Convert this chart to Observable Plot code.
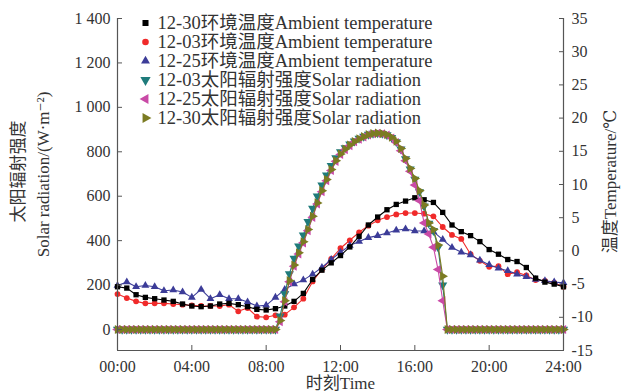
<!DOCTYPE html>
<html><head><meta charset="utf-8">
<script src="https://cdn.jsdelivr.net/npm/d3@7"></script>
<script src="https://cdn.jsdelivr.net/npm/@observablehq/plot@0.6"></script>
<style>
body{margin:0;background:#fff}
#chart svg, #chart svg text { font-family: "Liberation Serif", "Times New Roman", "DejaVu Serif", "Noto Sans CJK SC", serif !important; }
</style>
</head><body><div id="chart"></div>
<script>
// ---- data ----
const tempTimes = d3.range(0, 24.001, 0.5);   // hours, 30-min sampling
const solarTimes = d3.range(0, 24.001, 0.25); // hours, 15-min sampling

// ambient temperature (°C)
const temp1230 = [-5.4,-5.6,-6.6,-7.0,-7.2,-7.4,-7.6,-8.0,-8.3,
  -8.4,-8.3,-8.0,-7.9,-8.1,-8.4,-8.8,-8.9,
  -8.7,-8.3,-7.6,-6.4,-4.3,-2.9,-1.8,-0.7,
  0.6,2.2,3.9,5.1,6.2,7.0,7.5,8.0,
  7.7,7.3,5.8,3.9,2.9,2.3,1.4,0.2,
  -0.5,-1.3,-1.6,-2.5,-4.1,-4.7,-5.0,-5.4];
const temp1203 = [-6.5,-7.1,-7.6,-7.9,-7.9,-7.9,-8.0,-8.1,-8.2,
  -8.3,-8.3,-8.3,-8.1,-9.1,-8.6,-9.9,-10.0,
  -9.7,-9.6,-8.5,-7.2,-4.6,-2.8,-1.2,0.4,
  1.6,2.8,3.8,4.6,5.1,5.5,5.7,5.7,
  5.6,5.2,3.6,2.4,1.8,-0.5,-1.5,-2.4,
  -2.3,-3.5,-3.2,-3.7,-4.4,-4.5,-4.8,-5.4];
const temp1225 = [-5.2,-4.7,-5.4,-5.2,-5.4,-6.0,-5.9,-6.2,-7.0,
  -5.8,-7.2,-6.6,-7.2,-7.2,-7.7,-8.3,-8.2,
  -7.0,-5.8,-5.0,-4.4,-3.5,-2.5,-1.3,-0.2,
  0.8,1.4,2.0,2.3,2.7,3.1,3.3,3.0,
  3.0,2.9,1.7,0.5,-0.2,-0.6,-1.4,-2.1,
  -2.6,-3.0,-3.5,-3.9,-4.3,-4.5,-4.7,-4.8];

// solar radiation (W·m^-2)
const solar1203 = [0,0,0,0,0,0,0,0,0,0,0,0,0,0,0,0,0,0,0,0,0,0,0,0,0,0,0,0,0,0,0,0,0,0,0,
  60,160,250,320,375,425,485,545,600,650,695,738,772,800,818,834,848,860,869,878,
  883,885,882,876,864,845,812,768,722,676,620,555,478,445,370,200,
  0,0,0,0,0,0,0,0,0,0,0,0,0,0,0,0,0,0,0,0,0,0,0,0,0,0];
const solar1225 = [0,0,0,0,0,0,0,0,0,0,0,0,0,0,0,0,0,0,0,0,0,0,0,0,0,0,0,0,0,0,0,0,0,0,0,
  35,125,215,285,340,390,445,505,565,620,670,716,757,788,810,828,845,857,867,876,
  881,883,881,875,862,842,805,760,712,650,580,480,430,370,270,130,
  0,0,0,0,0,0,0,0,0,0,0,0,0,0,0,0,0,0,0,0,0,0,0,0,0,0];
const solar1230 = [0,0,0,0,0,0,0,0,0,0,0,0,0,0,0,0,0,0,0,0,0,0,0,0,0,0,0,0,0,0,0,0,0,0,0,
  40,130,220,290,345,395,450,510,570,625,675,720,760,790,812,830,846,858,868,877,
  882,884,882,877,866,848,815,770,725,680,625,560,480,450,380,240,
  0,0,0,0,0,0,0,0,0,0,0,0,0,0,0,0,0,0,0,0,0,0,0,0,0,0];

const xTicks = [0, 4, 8, 12, 16, 20, 24];
const leftTicks = [0, 200, 400, 600, 800, 1000, 1200, 1400];
const rightTicks = [-15, -10, -5, 0, 5, 10, 15, 20, 25, 30, 35];
const legendLabels = ["12-30环境温度Ambient temperature","12-03环境温度Ambient temperature","12-25环境温度Ambient temperature",
  "12-03太阳辐射强度Solar radiation","12-25太阳辐射强度Solar radiation","12-30太阳辐射强度Solar radiation"];

// ---- scales ----
const yMin = -94.5, yMax = 1400, tMin = -15, tMax = 35;
const toS = T => yMin + (T - tMin) * (yMax - yMin) / (tMax - tMin);
const fromS = S => tMin + (S - yMin) * (tMax - tMin) / (yMax - yMin);
const FONT = "Liberation Serif, Times New Roman, DejaVu Serif, Noto Sans CJK SC, serif";
const TICK_FS = 16, LABEL_FS = 17;

function triSym(deg) {
  const a = deg * Math.PI / 180;
  return {draw(ctx, size) {
    const y = -Math.sqrt(size / (Math.sqrt(3) * 3));
    const pts = [[0, 2 * y], [-Math.sqrt(3) * y, -y], [Math.sqrt(3) * y, -y]];
    pts.forEach(([px, py], i) => {
      const X = px * Math.cos(a) - py * Math.sin(a), Y = px * Math.sin(a) + py * Math.cos(a);
      i ? ctx.lineTo(X, Y) : ctx.moveTo(X, Y);
    });
    ctx.closePath();
  }};
}

const series = [
  {vals: temp1230, times: tempTimes, temp: true, color: "#000000", symbol: "square", r: 3.0},
  {vals: temp1203, times: tempTimes, temp: true, color: "#f02a2a", symbol: "circle", r: 2.9},
  {vals: temp1225, times: tempTimes, temp: true, color: "#3c3c98", symbol: "triangle", r: 2.9},
  {vals: solar1203, times: solarTimes, temp: false, color: "#1f7b7b", symbol: triSym(180), r: 3.4},
  {vals: solar1225, times: solarTimes, temp: false, color: "#c94aa6", symbol: triSym(-90), r: 3.4},
  {vals: solar1230, times: solarTimes, temp: false, color: "#7b7b22", symbol: triSym(90), r: 3.4}
];

const marks = [];
const drawOrder = [1, 2, 0, 3, 4, 5];
for (const i of drawOrder) {
  const s = series[i];
  const rows = s.times.map((t, k) => ({t, v: s.temp ? toS(s.vals[k]) : s.vals[k]}));
  marks.push(Plot.line(rows, {x: "t", y: "v", stroke: s.color, strokeWidth: 1.1}));
  marks.push(Plot.dot(rows, {x: "t", y: "v", fill: s.color, stroke: "none", symbol: s.symbol, r: s.r}));
}
// legend
series.forEach((s, i) => {
  marks.push(Plot.dot([0], {x: null, y: null, frameAnchor: "top-left", dx: 28, dy: 4.5 + 19 * i, fill: s.color, stroke: "none", symbol: s.symbol, r: s.r + 0.4}));
  marks.push(Plot.text([legendLabels[i]], {frameAnchor: "top-left", dx: 40, dy: 4.5 + 19 * i, text: d => d, textAnchor: "start", lineAnchor: "middle", fontSize: 18.5, fontFamily: FONT, fill: "#333"}));
});
// axes
const fmtLeft = d => d >= 1000 ? `${Math.floor(d / 1000)} ${String(d % 1000).padStart(3, "0")}` : String(d);
marks.push(
  Plot.ruleX([0, 24], {stroke: "#555", strokeWidth: 1.2}),
  Plot.ruleY([yMin], {stroke: "#555", strokeWidth: 1.2}),
  Plot.axisY(leftTicks, {anchor: "left", tickSize: -5, tickPadding: 12, tickFormat: fmtLeft, label: null, stroke: "#555", fill: "#333", fontSize: TICK_FS, fontFamily: FONT}),
  Plot.axisY(rightTicks.map(toS), {anchor: "right", tickSize: -5, tickPadding: 13, tickFormat: d => String(Math.round(fromS(d))), label: null, stroke: "#555", fill: "#333", fontSize: TICK_FS, fontFamily: FONT}),
  Plot.axisX(xTicks, {anchor: "bottom", tickSize: -5, tickPadding: 15, tickFormat: h => String(h).padStart(2, "0") + ":00", label: null, stroke: "#555", fill: "#333", fontSize: TICK_FS, fontFamily: FONT}),
  Plot.text(["太阳辐射强度"], {frameAnchor: "left", dx: -99, dy: -13, rotate: -90, textAnchor: "middle", lineAnchor: "middle", text: d => d, fontSize: LABEL_FS, fontFamily: FONT, fill: "#333"}),
  Plot.text(["Solar radiation/(W·m⁻²)"], {frameAnchor: "left", dx: -74, dy: -10, rotate: -90, textAnchor: "middle", lineAnchor: "middle", text: d => d, fontSize: LABEL_FS, fontFamily: FONT, fill: "#333"}),
  Plot.text(["温度Temperature/℃"], {frameAnchor: "right", dx: 47, dy: -3, rotate: -90, textAnchor: "middle", lineAnchor: "middle", text: d => d, fontSize: LABEL_FS, fontFamily: FONT, fill: "#333"}),
  Plot.text(["时刻Time"], {frameAnchor: "bottom", dy: 33, textAnchor: "middle", lineAnchor: "middle", text: d => d, fontSize: LABEL_FS, fontFamily: FONT, fill: "#333"})
);

const chart = Plot.plot({
  width: 624, height: 392,
  marginLeft: 117, marginRight: 61, marginTop: 18, marginBottom: 42,
  x: {domain: [0, 24]},
  y: {domain: [yMin, yMax]},
  style: {fontFamily: FONT, fontSize: "17px", color: "#333", background: "#fff"},
  marks
});
document.getElementById("chart").appendChild(chart);
</script></body></html>
